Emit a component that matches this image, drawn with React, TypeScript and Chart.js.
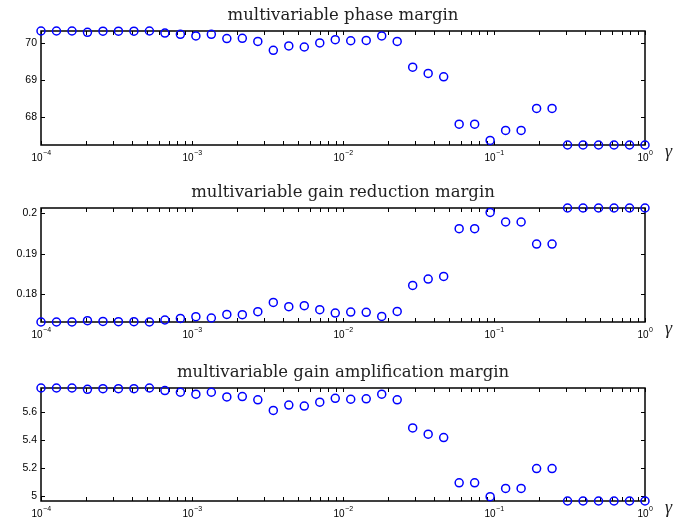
import React, { useEffect, useRef } from 'react';
import { Chart, registerables } from 'chart.js';

Chart.register(...registerables);

// gamma values (x), 40 log-spaced samples from 1e-4 to 1e0
const gammaValues = [
  1.0e-4, 1.266e-4, 1.604e-4, 2.031e-4, 2.572e-4, 3.257e-4, 4.125e-4, 5.223e-4, 6.615e-4, 8.377e-4,
  1.061e-3, 1.343e-3, 1.701e-3, 2.154e-3, 2.728e-3, 3.455e-3, 4.376e-3, 5.541e-3, 7.017e-3, 8.886e-3,
  1.125e-2, 1.425e-2, 1.805e-2, 2.285e-2, 2.894e-2, 3.665e-2, 4.642e-2, 5.878e-2, 7.444e-2, 9.427e-2,
  0.1194, 0.1512, 0.1915, 0.2424, 0.3070, 0.3888, 0.4924, 0.6236, 0.7897, 1.0,
];

const phaseMargin = [
  70.335, 70.335, 70.335, 70.3, 70.33, 70.33, 70.33, 70.335, 70.28, 70.245,
  70.2, 70.245, 70.13, 70.135, 70.05, 69.81, 69.93, 69.9, 70.01, 70.1,
  70.07, 70.08, 70.2, 70.05, 69.35, 69.18, 69.09, 67.8, 67.8, 67.36,
  67.63, 67.63, 68.23, 68.23, 67.235, 67.235, 67.235, 67.235, 67.235, 67.235,
];

const gainReductionMargin = [
  0.17322, 0.17322, 0.17322, 0.17354, 0.17337, 0.1733, 0.1733, 0.17322, 0.17371, 0.1741,
  0.17452, 0.1742, 0.17509, 0.17501, 0.17575, 0.17803, 0.17698, 0.17722, 0.17624, 0.17542,
  0.17567, 0.1756, 0.1746, 0.17583, 0.18221, 0.18377, 0.18442, 0.19614, 0.19614, 0.20015,
  0.19779, 0.19779, 0.19238, 0.19238, 0.20123, 0.20123, 0.20123, 0.20123, 0.20123, 0.20123,
];

const gainAmplificationMargin = [
  5.7745, 5.7745, 5.7745, 5.765, 5.77, 5.77, 5.77, 5.7745, 5.756, 5.744,
  5.73, 5.744, 5.711, 5.713, 5.69, 5.614, 5.652, 5.645, 5.673, 5.701,
  5.694, 5.697, 5.73, 5.69, 5.489, 5.444, 5.42, 5.096, 5.096, 4.997,
  5.056, 5.056, 5.198, 5.198, 4.966, 4.966, 4.966, 4.966, 4.966, 4.966,
];

const panelTitles = [
  'multivariable phase margin',
  'multivariable gain reduction margin',
  'multivariable gain amplification margin',
];

const xAxisLabel = 'γ';
const xDecadeExponents = [-4, -3, -2, -1, 0];
const minorMultipliers = [2, 3, 4, 5, 6, 7, 8, 9];
const yStepSizes = [1, 0.01, 0.2];

type PanelProps = {
  title: string;
  values: number[];
  yMin: number;
  yMax: number;
  yStep: number;
  height: number;
  plotTop: number;
  plotBottom: number;
};

const WIDTH = 694;
const PLOT_LEFT = 41;
const PLOT_RIGHT = 645;

function expText(n: number): string {
  return n < 0 ? '\u2212' + String(-n) : String(n);
}

function Panel(props: PanelProps) {
  const ref = useRef<HTMLCanvasElement | null>(null);

  useEffect(() => {
    const canvas = ref.current;
    if (!canvas) return;

    const framePlugin = {
      id: 'frameDecor',
      beforeDatasetsDraw(chart: any) {
        const { ctx, chartArea } = chart;
        const { left, right, top, bottom } = chartArea;
        const xs = chart.scales.x;
        const ys = chart.scales.y;
        ctx.save();
        ctx.strokeStyle = '#000';
        ctx.lineWidth = 1.5;
        ctx.strokeRect(left, top, right - left, bottom - top);
        ctx.lineWidth = 1;
        ctx.beginPath();
        ys.ticks.forEach((t: any) => {
          const y = Math.round(ys.getPixelForValue(t.value)) + 0.5;
          ctx.moveTo(left, y);
          ctx.lineTo(left + 4, y);
          ctx.moveTo(right, y);
          ctx.lineTo(right - 4, y);
        });
        const tickVals: number[] = [];
        xDecadeExponents.forEach((e) => {
          tickVals.push(Math.pow(10, e));
          if (e < 0) minorMultipliers.forEach((m) => tickVals.push(m * Math.pow(10, e)));
        });
        tickVals.forEach((v) => {
          const x = Math.round(xs.getPixelForValue(v)) + 0.5;
          ctx.moveTo(x, bottom);
          ctx.lineTo(x, bottom - 4);
          ctx.moveTo(x, top);
          ctx.lineTo(x, top + 4);
        });
        ctx.stroke();
        ctx.restore();
      },
      afterDraw(chart: any) {
        const { ctx, chartArea } = chart;
        const { left, right, top, bottom } = chartArea;
        const xs = chart.scales.x;
        ctx.save();
        ctx.fillStyle = '#000';
        ctx.textAlign = 'left';
        ctx.textBaseline = 'alphabetic';
        xDecadeExponents.forEach((e) => {
          const x = xs.getPixelForValue(Math.pow(10, e));
          const base = '10';
          const exp = expText(e);
          ctx.font = '10px "Liberation Sans", Arial, sans-serif';
          const bw = ctx.measureText(base).width;
          ctx.font = '7px "Liberation Sans", Arial, sans-serif';
          const ew = ctx.measureText(exp).width;
          const x0 = x - (bw + ew) / 2;
          ctx.font = '10px "Liberation Sans", Arial, sans-serif';
          ctx.fillText(base, x0, bottom + 16);
          ctx.font = '7px "Liberation Sans", Arial, sans-serif';
          ctx.fillText(exp, x0 + bw + 0.5, bottom + 9.5);
        });
        ctx.font = 'italic 18px "Liberation Serif", "DejaVu Serif", serif';
        ctx.fillStyle = '#222';
        ctx.fillText(xAxisLabel, 665, bottom + 12);
        ctx.font = '16.5px "DejaVu Serif", serif';
        ctx.textAlign = 'center';
        ctx.fillStyle = '#222';
        ctx.fillText(props.title, (left + right) / 2, top - 11);
        ctx.restore();
      },
    };

    const chart = new Chart(canvas, {
      type: 'scatter',
      data: {
        datasets: [
          {
            data: gammaValues.map((g, i) => ({ x: g, y: props.values[i] })),
            showLine: false,
            pointStyle: 'circle',
            pointRadius: 4,
            pointHoverRadius: 4,
            pointBorderWidth: 1.5,
            borderColor: '#0000ff',
            pointBorderColor: '#0000ff',
            backgroundColor: 'rgba(0,0,0,0)',
            pointBackgroundColor: 'rgba(0,0,0,0)',
            clip: false,
          } as any,
        ],
      },
      options: {
        responsive: false,
        animation: false,
        devicePixelRatio: 1,
        events: [],
        layout: {
          padding: { left: 0, right: WIDTH - PLOT_RIGHT, top: props.plotTop, bottom: 0 },
        },
        plugins: {
          legend: { display: false },
          tooltip: { enabled: false },
          title: { display: false },
        },
        scales: {
          x: {
            type: 'logarithmic',
            min: 1e-4,
            max: 1,
            grid: { display: false, drawTicks: false },
            border: { display: false },
            ticks: { display: false },
            afterFit: (s: any) => {
              s.height = props.height - props.plotBottom;
            },
          },
          y: {
            type: 'linear',
            min: props.yMin,
            max: props.yMax,
            grid: { display: false, drawTicks: false },
            border: { display: false },
            ticks: {
              stepSize: props.yStep,
              includeBounds: false,
              padding: 4,
              color: '#000',
              font: { family: '"Liberation Sans", Arial, sans-serif', size: 10.5 },
              callback: (v: any) => String(parseFloat(Number(v).toFixed(4))),
            },
            afterFit: (s: any) => {
              s.width = PLOT_LEFT;
            },
          },
        } as any,
      },
      plugins: [framePlugin],
    });
    return () => chart.destroy();
  }, []);

  return (
    <canvas
      ref={ref}
      width={WIDTH}
      height={props.height}
      style={{ display: 'block', width: WIDTH, height: props.height }}
    />
  );
}

export default function App() {
  const minOf = (a: number[]) => Math.min(...a);
  const maxOf = (a: number[]) => Math.max(...a);
  return (
    <div
      style={{
        position: 'fixed',
        left: 0,
        top: 0,
        width: WIDTH,
        height: 521,
        background: '#fff',
        overflow: 'hidden',
      }}
    >
      <Panel
        title={panelTitles[0]}
        values={phaseMargin}
        yMin={minOf(phaseMargin)}
        yMax={maxOf(phaseMargin)}
        yStep={yStepSizes[0]}
        height={170}
        plotTop={31}
        plotBottom={145}
      />
      <Panel
        title={panelTitles[1]}
        values={gainReductionMargin}
        yMin={minOf(gainReductionMargin)}
        yMax={maxOf(gainReductionMargin)}
        yStep={yStepSizes[1]}
        height={177}
        plotTop={38}
        plotBottom={152}
      />
      <Panel
        title={panelTitles[2]}
        values={gainAmplificationMargin}
        yMin={minOf(gainAmplificationMargin)}
        yMax={maxOf(gainAmplificationMargin)}
        yStep={yStepSizes[2]}
        height={174}
        plotTop={41}
        plotBottom={154}
      />
    </div>
  );
}
